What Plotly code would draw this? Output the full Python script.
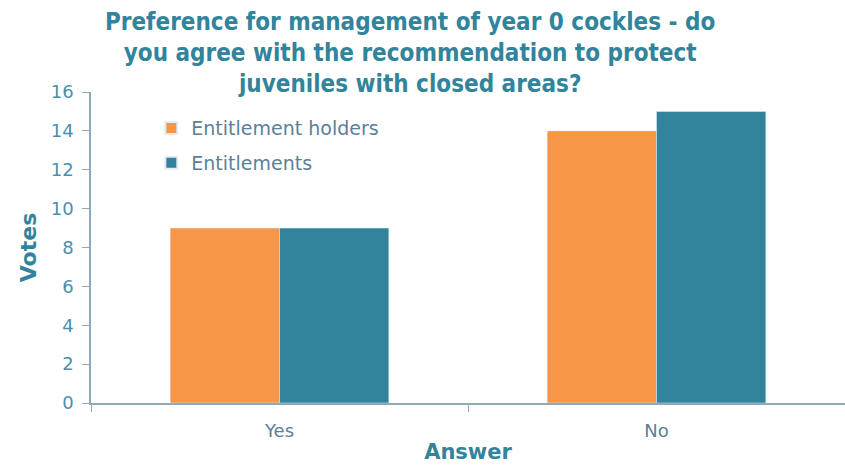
import plotly.graph_objects as go

categories = ["Yes", "No"]
holders = [9, 14]
entitlements = [9, 15]
series_names = ["Entitlement holders", "Entitlements"]
title_text = ("Preference for management of year 0 cockles - do<br>"
              "you agree with the recommendation to protect<br>"
              "juveniles with closed areas?")

title_col = "#31849B"
tick_col = "#4A8FB0"
axis_col = "#8EAAB9"

fig = go.Figure()
fig.add_trace(go.Bar(x=categories, y=holders, name=series_names[0],
                     marker_color="#F79646", legendgroup="a"))
fig.add_trace(go.Bar(x=categories, y=entitlements, name=series_names[1],
                     marker_color="#31849B", legendgroup="b"))

fig.add_annotation(
    text=title_text, xref="paper", yref="paper", x=0.423, y=1.278,
    xanchor="center", yanchor="top", showarrow=False, align="center",
    font=dict(family="DejaVu Sans Condensed", size=24, color=title_col, weight="bold"),
)

fig.update_layout(
    width=845, height=465,
    margin=dict(l=91, r=0, t=92, b=62),
    paper_bgcolor="white", plot_bgcolor="white",
    barmode="group", bargap=0.42, bargroupgap=0,
    legend=dict(
        x=0.08, y=0.945, xanchor="left", yanchor="top",
        font=dict(family="DejaVu Sans", size=19, color="#5A7F99"),
        bgcolor="rgba(0,0,0,0)", tracegroupgap=7, itemsizing="constant",
        itemwidth=30,
    ),
    font=dict(family="DejaVu Sans", color=tick_col),
)
fig.update_xaxes(
    showline=True, linecolor=axis_col, linewidth=1.5,
    ticks="outside", tickson="boundaries", ticklen=7, tickcolor=axis_col,
    tickfont=dict(family="DejaVu Sans", size=18, color="#5A7F99"),
    ticklabelstandoff=11,
    title=dict(text="Answer", font=dict(family="DejaVu Sans", size=21, color=title_col, weight="bold"), standoff=4),
    showgrid=False,
)
fig.update_yaxes(
    range=[0, 16], dtick=2, showline=True, linecolor=axis_col, linewidth=1.5,
    ticks="outside", ticklen=7, tickcolor=axis_col,
    tickfont=dict(family="DejaVu Sans", size=18, color=tick_col),
    ticklabelstandoff=5,
    title=dict(text="Votes", font=dict(family="DejaVu Sans", size=22, color=title_col, weight="bold"), standoff=8),
    showgrid=False, zeroline=False,
)
fig.write_html("out.html")
